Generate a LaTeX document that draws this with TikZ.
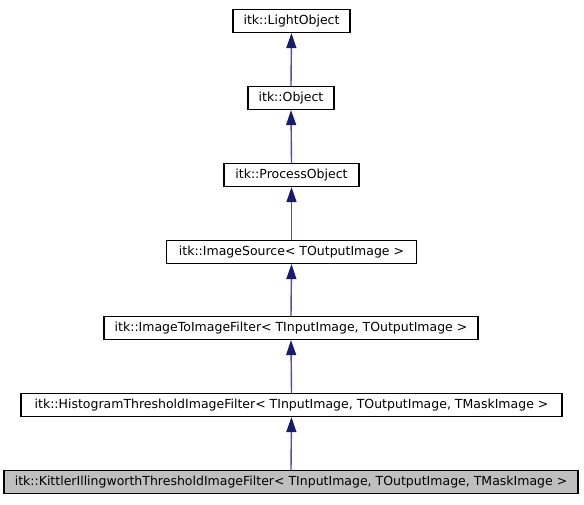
\documentclass[tikz,border=0pt]{standalone}
\usepackage{fontspec}
\setmainfont{DejaVu Sans}
\usetikzlibrary{arrows.meta}
\definecolor{edgeline}{RGB}{80,80,150}
\definecolor{edgehead}{RGB}{25,25,112}
\definecolor{curfill}{RGB}{191,191,191}
\begin{document}
\begin{tikzpicture}[x=1pt,y=-1pt,
  cls/.style={draw=black,line width=1.2pt,fill=white,inner sep=0pt,minimum height=23pt,font=\fontsize{12.5}{14}\selectfont,anchor=center},
  cur/.style={cls,fill=curfill},
  inh/.style={draw=edgeline,line width=1.4pt,-{Triangle[length=15pt,width=10pt,color=edgehead]}}]
\useasboundingbox (0,0) rectangle (584,504);
\node[cls,minimum width=117pt] (lo) at (291.5,21) {itk::LightObject};
\node[cls,minimum width=86pt] (ob) at (291,98) {itk::Object};
\node[cls,minimum width=135pt] (po) at (291.5,175) {itk::ProcessObject};
\node[cls,minimum width=250pt] (is) at (291.5,252) {itk::ImageSource< TOutputImage >};
\node[cls,minimum width=374pt] (itif) at (291,328) {itk::ImageToImageFilter< TInputImage, TOutputImage >};
\node[cls,minimum width=541pt] (ht) at (291.5,405) {itk::HistogramThresholdImageFilter< TInputImage, TOutputImage, TMaskImage >};
\node[cur,minimum width=574pt] (ki) at (291,482) {itk::KittlerIllingworthThresholdImageFilter< TInputImage, TOutputImage, TMaskImage >};
\draw[inh] (ob.north) -- (lo.south);
\draw[inh] (po.north) -- (ob.south);
\draw[inh] (is.north) -- (po.south);
\draw[inh] (itif.north) -- (is.south);
\draw[inh] (ht.north) -- (itif.south);
\draw[inh] (ki.north) -- (ht.south);
\end{tikzpicture}
\end{document}
